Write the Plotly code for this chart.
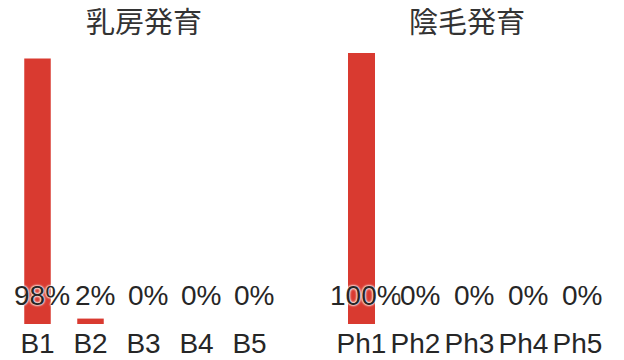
import plotly.graph_objects as go

# Tanner staging distributions (percent of subjects)
breast_stages = ["B1", "B2", "B3", "B4", "B5"]
breast_pct = [98, 2, 0, 0, 0]
pubic_stages = ["Ph1", "Ph2", "Ph3", "Ph4", "Ph5"]
pubic_pct = [100, 0, 0, 0, 0]

panel_titles = ["乳房発育", "陰毛発育"]

BAR_RED = "#d93a30"
INK = "#262626"
LATIN = "Liberation Sans, Arial, sans-serif"
CJK = "Noto Sans CJK JP, sans-serif"

fig = go.Figure()

fig.add_trace(go.Bar(x=breast_stages, y=breast_pct, width=0.5,
                     marker=dict(color=BAR_RED, line=dict(width=0)),
                     xaxis="x", yaxis="y", hoverinfo="skip"))
fig.add_trace(go.Bar(x=pubic_stages, y=pubic_pct, width=0.5,
                     marker=dict(color=BAR_RED, line=dict(width=0)),
                     xaxis="x2", yaxis="y2", hoverinfo="skip"))

y_dom = [36 / 360, 307 / 360]
common_x = dict(type="category", showgrid=False, zeroline=False, showline=False,
                ticks="", tickfont=dict(family=LATIN, size=28, color=INK),
                range=[-0.5, 4.5], fixedrange=True)
common_y = dict(range=[0, 100], showgrid=False, zeroline=False, showline=False,
                showticklabels=False, domain=y_dom, fixedrange=True)

annotations = []
halo = "0 0 2px #fff, 0 0 2px #fff, 0 0 3px #fff"
for xr, cats, vals in (("x", breast_stages, breast_pct),
                       ("x2", pubic_stages, pubic_pct)):
    for c, v in zip(cats, vals):
        annotations.append(dict(
            x=c, y=1 - 295 / 360, xref=xr, yref="paper", text=f"{v}%",
            showarrow=False, xshift=4, xanchor="center", yanchor="middle",
            font=dict(family=LATIN, size=28, color=INK, shadow=halo)))

for title, xc in zip(panel_titles, [144 / 624, 467 / 624]):
    annotations.append(dict(
        x=xc, y=1 - 20 / 360, xref="paper", yref="paper", text=title,
        showarrow=False, xanchor="center", yanchor="middle",
        font=dict(family=CJK, size=29, color="#333333")))

fig.update_layout(
    width=624, height=360,
    margin=dict(l=0, r=0, t=0, b=0),
    paper_bgcolor="white", plot_bgcolor="white",
    showlegend=False,
    xaxis=dict(domain=[11 / 624, 276 / 624], anchor="y", **common_x),
    yaxis=dict(anchor="x", **common_y),
    xaxis2=dict(domain=[334.5 / 624, 604.5 / 624], anchor="y2", **common_x),
    yaxis2=dict(anchor="x2", **common_y),
    annotations=annotations,
    bargap=0.5,
)

fig.write_html("out.html", config={"displayModeBar": False})
